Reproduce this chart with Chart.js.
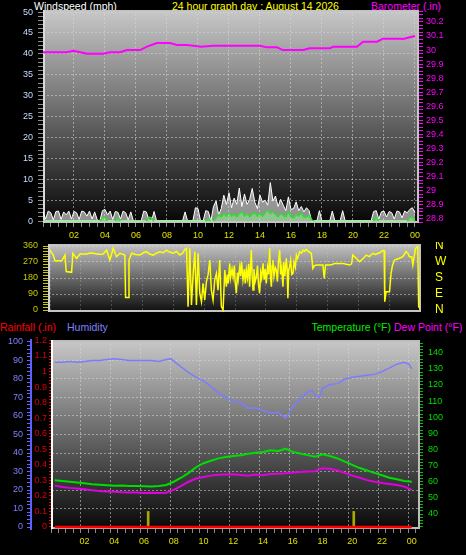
<!DOCTYPE html>
<html>
<head>
<meta charset="utf-8">
<script src="https://cdn.jsdelivr.net/npm/chart.js@4.4.1/dist/chart.umd.min.js"></script>
<style>
  html, body { margin: 0; padding: 0; background: #000; overflow: hidden; }
  #wrap { position: relative; width: 466px; height: 555px; background: #000; font-family: "Liberation Sans", Arial, sans-serif; }
  .lbl { position: absolute; font-size: 10.5px; line-height: 12px; white-space: nowrap; }
  canvas { position: absolute; left: 0; }
</style>
</head>
<body>
<div id="wrap">
  <div class="lbl" style="left:34px;top:0;color:#ffffff">Windspeed (mph)</div>
  <div class="lbl" style="left:172px;top:0;color:#ffff00">24 hour graph day : August 14 2026</div>
  <div class="lbl" style="left:371px;top:0;color:#ff00ff">Barometer (.in)</div>

  <canvas id="wind-chart" width="466" height="242" style="top:0"></canvas>
  <canvas id="dir-chart" width="466" height="76" style="top:242px"></canvas>

  <div class="lbl" style="left:0;top:321px;color:#ff0000">Rainfall (.in)</div>
  <div class="lbl" style="left:67px;top:321px;color:#8080ff">Humidity</div>
  <div class="lbl" style="right:75px;top:321px;color:#00ee00">Temperature (°F)</div>
  <div class="lbl" style="left:394px;top:321px;color:#ff00ff">Dew Point (°F)</div>

  <canvas id="temp-chart" width="466" height="237" style="top:318px"></canvas>
</div>
<script>
/* ---- data ---- */
var HOUR_LABELS = ['02', '04', '06', '08', '10', '12', '14', '16', '18', '20', '22', '00'];
var COMPASS_LABELS = ['N', 'E', 'S', 'W', 'N'];

/* wind speed, one sample every 10 minutes (mph) */
var windGust = [
  2.2, 0.5, 2.4, 2.0, 0.3, 2.3,
  2.4, 0.4, 2.2, 1.5, 2.4, 0.5,
  2.3, 2.0, 0.4, 2.4, 2.2, 1.2,
  2.4, 0.5, 2.2, 0.3, 0, 2.5,
  2.8, 1.5, 2.4, 0.4, 2.3, 2.1,
  0.5, 2.4, 2.0, 0.3, 2.2, 0,
  0, 0, 0, 2.4, 2.2, 0.3,
  0, 2.3, 0, 0, 0, 0,
  0, 0, 0, 0, 0, 0,
  0, 2.2, 0, 0, 0, 3.2,
  3.0, 0, 0, 2.5, 2.3, 0,
  3.5, 4.8, 1.5, 3.0, 6.2, 4.0,
  6.8, 3.2, 5.5, 4.0, 7.9, 3.5,
  6.5, 4.0, 5.2, 7.8, 4.5, 3.0,
  6.2, 4.5, 5.0, 3.8, 9.2, 4.8,
  6.0, 3.5, 5.2, 3.8, 2.5, 5.8,
  2.8, 3.0, 4.6, 2.5, 3.5, 2.2,
  3.2, 2.5, 0, 0, 0, 2.5,
  0, 0, 0, 0, 2.4, 0,
  0, 0, 2.5, 0, 0, 0,
  0, 0, 0, 0, 0, 0,
  0, 0, 2.3, 2.5, 0.5, 2.2,
  2.4, 1.0, 2.3, 2.0, 0.5, 2.4,
  2.2, 0.8, 2.4, 2.0, 2.8, 3.2,
  2.0
];
var windAvg = [
  0, 0, 0, 0, 0, 0,
  0, 0, 0, 0, 0, 0,
  0, 0, 0, 0, 0, 0,
  0, 0, 0, 0, 0, 0.8,
  1.0, 0, 0, 0, 0, 0.8,
  0, 0, 0, 0, 0, 0,
  0, 0, 0, 0, 0, 0.9,
  0.8, 0, 0, 0, 0, 0,
  0, 0, 0, 0, 0, 0,
  0, 0, 0, 0, 0, 0,
  0, 0, 0, 0, 0.6, 0,
  0, 0.8, 1.5, 1.0, 1.8, 1.2,
  2.0, 1.2, 1.6, 1.0, 1.8, 2.2,
  1.2, 1.8, 1.0, 1.6, 2.0, 1.2,
  1.8, 1.2, 2.0, 2.6, 1.8, 2.2,
  1.6, 1.0, 1.8, 1.4, 1.0, 2.2,
  1.0, 0.8, 1.6, 1.2, 2.0, 1.0,
  1.0, 1.4, 0.3, 0, 0, 0,
  0, 0, 0, 0, 0, 0,
  0, 0, 0, 0, 0, 0,
  0, 0, 0, 0, 0, 0,
  0, 0, 0, 1.0, 0, 0,
  0, 0, 0, 0, 0, 0,
  0, 0, 0, 0, 0.8, 1.0,
  0
];
var windHours = windGust.map(function (v, i) { return i / 6; });

/* barometer (in) */
var baroHours = [0, 1.55, 1.94, 2.19, 2.84, 3.87, 4.32, 4.97, 5.42, 6.26,
  6.71, 7.35, 8.19, 8.65, 9.29, 10.2, 10.97, 14.0, 14.45, 15.1,
  15.48, 16.77, 17.23, 18.52, 18.71, 20.26, 20.65, 21.55, 21.94, 23.03,
  23.23, 24];
var baroValues = [29.984, 29.984, 29.995, 29.99, 29.974, 29.974, 29.984, 29.984, 30.0, 30.0,
  30.024, 30.05, 30.05, 30.036, 30.036, 30.024, 30.031, 30.031, 30.019, 30.019,
  30.0, 30.0, 30.012, 30.012, 30.024, 30.024, 30.059, 30.059, 30.081, 30.081,
  30.079, 30.1];

/* wind direction (degrees) */
var dirHours = [
  0, 0.21, 0.32, 0.76, 0.97, 1.05, 1.40, 1.48, 1.73, 1.94,
  2.37, 2.6, 2.91, 3.2, 3.45, 3.67, 3.88, 4.10, 4.31, 4.53,
  4.85, 4.90, 5.07, 5.12, 5.29, 5.55, 5.83, 6.05, 6.26, 6.45,
  6.69, 6.9, 7.12, 7.35, 7.55, 7.75, 7.98, 8.2, 8.41, 8.6,
  8.74, 8.85, 8.95, 9.06, 9.17, 9.28, 9.39, 9.49, 9.60, 9.71,
  9.82, 9.92, 10.03, 10.14, 10.25, 10.36, 10.46, 10.57, 10.68, 10.79,
  10.89, 11.00, 11.11, 11.22, 11.33, 11.43, 11.5, 11.55, 11.65, 11.7,
  11.8, 11.87, 11.95, 12.0, 12.08, 12.15, 12.2, 12.3, 12.36, 12.42,
  12.51, 12.6, 12.66, 12.73, 12.8, 12.88, 12.94, 13.05, 13.1, 13.16,
  13.22, 13.3, 13.38, 13.45, 13.52, 13.59, 13.66, 13.72, 13.81, 13.88,
  13.95, 14.02, 14.1, 14.17, 14.24, 14.3, 14.35, 14.4, 14.45, 14.52,
  14.6, 14.67, 14.74, 14.8, 14.89, 14.95, 15.02, 15.1, 15.16, 15.22,
  15.32, 15.37, 15.42, 15.47, 15.53, 15.6, 15.67, 15.75, 15.82, 15.9,
  15.97, 16.05, 16.18, 16.3, 16.40, 16.5, 16.61, 16.75, 16.94, 17.04,
  17.15, 17.26, 17.69, 17.78, 17.86, 18.12, 18.3, 18.45, 19.0, 19.42,
  19.55, 19.63, 19.85, 20.06, 20.3, 20.50, 20.7, 20.93, 21.1, 21.36,
  21.57, 21.66, 21.70, 21.79, 22.01, 22.11, 22.2, 22.33, 22.65, 22.87,
  23.08, 23.2, 23.30, 23.45, 23.52, 23.69, 23.84, 23.90, 23.99
];
var dirValues = [
  337, 309, 277, 277, 309, 216, 212, 319, 290, 315,
  315, 320, 318, 314, 315, 337, 281, 347, 300, 319,
  309, 71, 71, 281, 319, 312, 309, 322, 328, 315,
  309, 320, 328, 322, 337, 326, 319, 330, 309, 320,
  341, 347, 19, 347, 28, 206, 328, 28, 319, 94,
  47, 150, 56, 159, 200, 281, 112, 56, 170, 206,
  112, 281, 19, 0, 225, 131, 200, 150, 262, 180,
  230, 187, 250, 160, 94, 210, 170, 244, 190, 270,
  169, 230, 150, 225, 180, 260, 131, 337, 200, 112,
  230, 160, 187, 250, 140, 94, 210, 180, 262, 170,
  230, 150, 240, 200, 347, 180, 131, 250, 281, 190,
  240, 225, 160, 260, 337, 200, 240, 131, 270, 190,
  291, 230, 66, 220, 244, 280, 200, 206, 270, 240,
  309, 290, 328, 320, 337, 330, 341, 330, 319, 234,
  250, 253, 253, 178, 253, 253, 256, 262, 262, 253,
  260, 309, 291, 272, 290, 309, 300, 319, 312, 322,
  334, 334, 47, 103, 103, 206, 250, 281, 291, 300,
  328, 320, 300, 300, 253, 347, 356, 19, 9
];

/* humidity (%) */
var humHours = [0, 0.5, 1, 1.5, 2, 2.5, 3, 3.5, 4, 4.5,
  5, 5.5, 6, 6.5, 7, 7.5, 7.8, 8.1, 8.5, 9,
  9.5, 10, 10.5, 11, 11.5, 12, 12.5, 13, 13.5, 14,
  14.5, 15, 15.5, 15.7, 16, 16.5, 17, 17.3, 17.5, 17.8,
  18, 18.5, 19, 19.5, 20, 20.5, 21, 21.5, 22, 22.5,
  23, 23.5, 23.8, 24];
var humValues = [89, 89, 89.5, 89, 89.5, 90, 90, 90.5, 91, 90.5,
  90, 90, 90, 90, 89.5, 90.5, 91, 89, 86.5, 83.5,
  81, 79, 76, 72.5, 70, 68, 67.5, 64, 64.5, 63,
  61.5, 62, 59, 61, 65, 69, 73, 74, 71, 70,
  75, 77, 77.5, 80, 81, 81.5, 82, 82.5, 84, 86,
  88, 89, 88, 85.5];

/* temperature and dew point (F), half-hourly */
var tempValues = [61, 60.5, 60, 59.5, 59, 58.5, 58.2, 57.8, 57.5, 57.6,
  57.3, 57.4, 57.2, 57, 57.3, 58, 60, 62.5, 65.5, 69,
  71.5, 73, 74.5, 75.3, 76, 76.5, 77.3, 78, 78.5, 79.5,
  79, 80.5, 78.5, 77.5, 76.5, 75.5, 77, 76, 74.5, 72.5,
  70.5, 68.5, 67, 65.5, 64, 62.5, 61.5, 60.5, 60];
var dewValues = [57.6, 56.8, 56.2, 55.8, 55.3, 54.8, 54.3, 54, 53.8, 53.5,
  53.4, 53.3, 53, 53.2, 53, 53.2, 55, 57.4, 60, 62,
  63, 63.8, 64.3, 64.5, 64.6, 64.2, 63.8, 64.5, 64, 64.8,
  65, 65.2, 65.8, 66, 66.3, 66.5, 68.4, 68, 67, 65.5,
  63.8, 62.5, 61, 60, 59.2, 58.6, 58, 57, 55];
var halfHours = tempValues.map(function (v, i) { return i / 2; });

/* rainfall (in) */
var rainHours = [0, 24];
var rainValues = [0, 0];
var rainRateHours = [6.28, 20.1];
var rainRateValues = [0.1, 0.1];

/* ---- shared helpers ---- */
Chart.defaults.font.family = '"Liberation Sans", Arial, sans-serif';
Chart.defaults.font.size = 9;
Chart.defaults.elements.point.radius = 0;

var GRID_DOT = 'rgba(215,215,215,0.55)';

function pts(xs, ys) {
  return xs.map(function (x, i) { return { x: x, y: ys[i] }; });
}
function onStep(v, step) {
  var r = v / step;
  return Math.abs(r - Math.round(r)) < 1e-6;
}
function hourLabel(v) {
  if (v <= 0 || !onStep(v, 2)) return '';
  return HOUR_LABELS[Math.round(v / 2) - 1];
}
function dotted(step) {
  return function (c) {
    return c.tick && onStep(c.tick.value, step) ? GRID_DOT : 'transparent';
  };
}
/* fix axis size so the plot areas line up with the picture */
function fit(w, h) {
  return function (s) {
    if (w !== null) s.width = w;
    if (h !== null) s.height = h;
    s.paddingTop = 0; s.paddingBottom = 0; s.paddingLeft = 0; s.paddingRight = 0;
  };
}

/* grey-to-black plot background with a light bevel */
var plotFrame = {
  id: 'plotFrame',
  beforeDraw: function (chart, args, opts) {
    var a = chart.chartArea, ctx = chart.ctx;
    var g = ctx.createLinearGradient(0, a.top, 0, a.bottom);
    g.addColorStop(0, opts.top);
    g.addColorStop(1, opts.bottom);
    ctx.save();
    ctx.fillStyle = g;
    ctx.fillRect(a.left, a.top, a.right - a.left, a.bottom - a.top);
    ctx.restore();
  },
  beforeDatasetsDraw: function (chart, args, opts) {
    var a = chart.chartArea, ctx = chart.ctx;
    ctx.save();
    ctx.lineWidth = 2;
    ctx.strokeStyle = opts.edge;
    ctx.beginPath();
    ctx.moveTo(a.left, a.top + 1); ctx.lineTo(a.right, a.top + 1);
    ctx.moveTo(a.right - 1, a.top); ctx.lineTo(a.right - 1, a.bottom);
    ctx.moveTo(a.left, a.bottom - 1); ctx.lineTo(a.right, a.bottom - 1);
    ctx.stroke();
    ctx.strokeStyle = opts.left;
    ctx.beginPath();
    ctx.moveTo(a.left + 1, a.top); ctx.lineTo(a.left + 1, a.bottom);
    ctx.stroke();
    ctx.restore();
  }
};

var common = {
  responsive: false,
  animation: false,
  events: []
};

/* ---- 1. wind speed and barometer ---- */
new Chart(document.getElementById('wind-chart'), {
  type: 'line',
  plugins: [plotFrame],
  data: {
    datasets: [
      {
        label: 'Average speed',
        data: pts(windHours, windAvg),
        yAxisID: 'y',
        borderColor: '#30e030',
        borderWidth: 1.5,
        backgroundColor: 'rgba(150,235,150,0.55)',
        fill: 'origin',
        segment: {
          borderColor: function (c) { return c.p0.parsed.y === 0 && c.p1.parsed.y === 0 ? '#a8e4a8' : undefined; },
          borderWidth: function (c) { return c.p0.parsed.y === 0 && c.p1.parsed.y === 0 ? 2 : undefined; }
        }
      },
      {
        label: 'Gust',
        data: pts(windHours, windGust),
        yAxisID: 'y',
        borderColor: '#ffffff',
        borderWidth: 1,
        backgroundColor: 'rgba(235,235,235,0.6)',
        fill: 'origin'
      },
      {
        label: 'Barometer',
        data: pts(baroHours, baroValues),
        yAxisID: 'baro',
        borderColor: '#ff00ff',
        borderWidth: 2,
        fill: false
      }
    ]
  },
  options: Object.assign({}, common, {
    layout: { padding: { top: 10 } },
    plugins: {
      legend: { display: false },
      tooltip: { enabled: false },
      plotFrame: { top: '#c8c8c8', bottom: '#060606', edge: '#c4c4c4', left: '#dadada' }
    },
    scales: {
      x: {
        type: 'linear', min: 0, max: 24.26,
        afterFit: fit(null, 19),
        ticks: { stepSize: 0.5, includeBounds: false, autoSkip: false, maxRotation: 0, color: '#e0e000', padding: 3, callback: hourLabel },
        grid: { color: dotted(2), tickColor: '#8a8a8a', tickLength: 4 },
        border: { display: false, dash: [2, 2] }
      },
      y: {
        position: 'left', min: -0.45, max: 50.5,
        afterFit: fit(43, null),
        ticks: {
          stepSize: 1, includeBounds: false, autoSkip: false, color: '#c8dcff', padding: 5,
          callback: function (v) { return onStep(v, 5) ? String(Math.round(v)) : ''; }
        },
        grid: { color: dotted(5), tickColor: '#8a8a8a', tickLength: 5 },
        border: { display: false, dash: [2, 2] }
      },
      baro: {
        position: 'right', min: 28.769, max: 30.285,
        afterFit: fit(47, null),
        ticks: {
          stepSize: 0.025, includeBounds: false, autoSkip: false, color: '#ff00ff', padding: 3,
          callback: function (v) { return onStep(v, 0.1) ? String(Math.round(v * 10) / 10) : ''; }
        },
        grid: { drawOnChartArea: false, color: '#ff00ff', tickLength: 4 },
        border: { display: false }
      }
    }
  })
});

/* ---- 2. wind direction ---- */
new Chart(document.getElementById('dir-chart'), {
  type: 'line',
  plugins: [plotFrame],
  data: {
    datasets: [
      {
        label: 'Wind direction',
        data: pts(dirHours, dirValues),
        yAxisID: 'dir',
        borderColor: '#ffff00',
        borderWidth: 1.5,
        fill: false
      }
    ]
  },
  options: Object.assign({}, common, {
    layout: { padding: { top: 2 } },
    plugins: {
      legend: { display: false },
      tooltip: { enabled: false },
      plotFrame: { top: '#c4c4c4', bottom: '#0e0e0e', edge: '#c4c4c4', left: '#d4d4d4' }
    },
    scales: {
      x: {
        type: 'linear', min: -0.13, max: 24.05,
        afterFit: fit(null, 6),
        ticks: { display: false, stepSize: 2, includeBounds: false },
        grid: { color: 'rgba(210,210,210,0.25)', drawTicks: false },
        border: { display: false, dash: [2, 2] }
      },
      dir: {
        position: 'left', min: -11.25, max: 371.25,
        afterFit: fit(48, null),
        ticks: {
          stepSize: 15, includeBounds: false, autoSkip: false, color: '#c8c800', padding: 5,
          callback: function (v) { return onStep(v, 90) ? String(Math.round(v)) : ''; }
        },
        grid: { color: dotted(90), tickColor: '#c8c800', tickLength: 5 },
        border: { display: false, dash: [2, 2] }
      },
      compass: {
        position: 'right', min: -11.25, max: 371.25,
        afterFit: fit(45, null),
        ticks: {
          stepSize: 90, includeBounds: false, autoSkip: false, color: '#ffff00', padding: 14, font: { size: 12 },
          callback: function (v) { return COMPASS_LABELS[Math.round(v / 90)]; }
        },
        grid: { drawOnChartArea: false, drawTicks: false },
        border: { display: false }
      }
    }
  })
});

/* ---- 3. rainfall, humidity, temperature, dew point ---- */
new Chart(document.getElementById('temp-chart'), {
  type: 'line',
  plugins: [plotFrame],
  data: {
    datasets: [
      {
        label: 'Rainfall',
        data: pts(rainHours, rainValues),
        yAxisID: 'rain',
        borderColor: '#ff0000',
        borderWidth: 2.5,
        fill: false
      },
      {
        type: 'bar',
        label: 'Rain rate',
        data: pts(rainRateHours, rainRateValues),
        yAxisID: 'rain',
        backgroundColor: '#a8a800',
        barThickness: 2
      },
      {
        label: 'Temperature',
        data: pts(halfHours, tempValues),
        yAxisID: 'temp',
        borderColor: '#00dd00',
        borderWidth: 2,
        fill: false
      },
      {
        label: 'Dew Point',
        data: pts(halfHours, dewValues),
        yAxisID: 'temp',
        borderColor: '#e000e0',
        borderWidth: 2,
        fill: false
      },
      {
        label: 'Humidity',
        data: pts(humHours, humValues),
        yAxisID: 'hum',
        borderColor: '#7c7cff',
        borderWidth: 1.5,
        fill: false
      }
    ]
  },
  options: Object.assign({}, common, {
    layout: { padding: { top: 22 } },
    plugins: {
      legend: { display: false },
      tooltip: { enabled: false },
      plotFrame: { top: '#c8c8c8', bottom: '#080808', edge: '#bdbdbd', left: '#ffffff' }
    },
    scales: {
      x: {
        type: 'linear', min: 0, max: 24.3,
        afterFit: fit(null, 26),
        ticks: { stepSize: 0.5, includeBounds: false, autoSkip: false, maxRotation: 0, color: '#e0e000', padding: 3, callback: hourLabel },
        grid: { color: dotted(2), tickColor: '#8a8a8a', tickLength: 4 },
        border: { display: false, dash: [2, 2] }
      },
      hum: {
        position: 'left', weight: 1, min: -1.08, max: 101.08,
        afterFit: fit(31, null),
        ticks: {
          stepSize: 2, includeBounds: false, autoSkip: false, color: '#8080ff', padding: 4,
          callback: function (v) { return onStep(v, 10) ? String(Math.round(v)) : ''; }
        },
        grid: { color: dotted(10), tickColor: '#6868ff', tickLength: 4 },
        border: { display: true, color: '#6060ff', width: 2, dash: [2, 2] }
      },
      rain: {
        position: 'left', weight: 0, min: -0.013, max: 1.203,
        afterFit: fit(20, null),
        ticks: {
          stepSize: 0.02, includeBounds: false, autoSkip: false, color: '#dd0000', padding: 2,
          callback: function (v) { return onStep(v, 0.1) ? String(Math.round(v * 10) / 10) : ''; }
        },
        grid: { drawOnChartArea: false, color: '#e00000', tickLength: 2 },
        border: { display: false }
      },
      temp: {
        position: 'right', min: 30.7, max: 147.9,
        afterFit: fit(46, null),
        ticks: {
          stepSize: 2, includeBounds: false, autoSkip: false, color: '#00dd00', padding: 5,
          callback: function (v) { return onStep(v, 10) ? String(Math.round(v)) : ''; }
        },
        grid: { drawOnChartArea: false, color: '#00c000', tickLength: 3 },
        border: { display: false }
      }
    }
  })
});
</script>
</body>
</html>
